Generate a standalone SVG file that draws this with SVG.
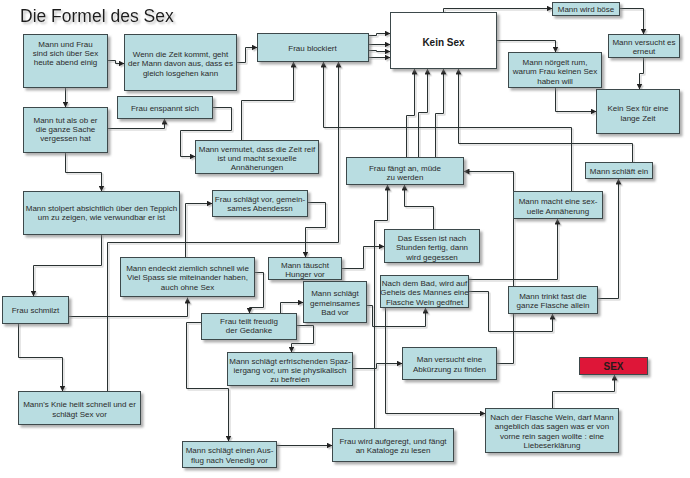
<svg xmlns="http://www.w3.org/2000/svg" width="690" height="478" viewBox="0 0 690 478">
<defs>
<filter id="sh" x="-10%" y="-10%" width="130%" height="140%">
<feDropShadow dx="2.5" dy="2.5" stdDeviation="1.2" flood-color="#7a7a7a" flood-opacity="0.6"/>
</filter>
<filter id="lsh" x="-10%" y="-10%" width="130%" height="130%">
<feDropShadow dx="1.5" dy="1.5" stdDeviation="0.6" flood-color="#9a9a9a" flood-opacity="0.5"/>
</filter>
<filter id="tsh" x="-10%" y="-30%" width="130%" height="180%">
<feDropShadow dx="2" dy="2" stdDeviation="1.2" flood-color="#8a8a8a" flood-opacity="0.55"/>
</filter>
<marker id="a" markerWidth="6" markerHeight="6" refX="6" refY="3" orient="auto" markerUnits="userSpaceOnUse">
<path d="M0,0 L6,3 L0,6 z" fill="#222"/>
</marker>
</defs>
<style>
.n rect{fill:#b9dde1;stroke:#3d4a4c;stroke-width:1;filter:url(#sh)}
.n text,.title{font-family:"Liberation Sans",Arial,sans-serif;font-size:8px;fill:#2b2b2b;text-anchor:middle}
#conn path{fill:none;stroke:#2c3233;stroke-width:1;marker-end:url(#a)}
.title{font-size:17.5px;text-anchor:start;fill:#1e1e1e;filter:url(#tsh)}
</style>
<rect width="690" height="478" fill="#ffffff"/>
<text class="title" x="20" y="22">Die Formel des Sex</text>
<g transform="translate(0.5 0.5)">
<g id="conn" filter="url(#lsh)">
<path d="M107,60 H115 V63 H124"/>
<path d="M65,87 V107"/>
<path d="M236,62 H245 V47 H257"/>
<path d="M107,128 H164 V118"/>
<path d="M212,107 H231 V130 H180 V156 H195"/>
<path d="M241,140 V100 H293 V61"/>
<path d="M368,35 H376 V33 H390"/>
<path d="M368,44 H390"/>
<path d="M368,50 H376 V51 H390"/>
<path d="M368,57 H390"/>
<path d="M443,12 V8 H552"/>
<path d="M619,8 H643 V34"/>
<path d="M496,40 H555 V52"/>
<path d="M643,57 V73 H639 V89"/>
<path d="M555,87 V111 H596"/>
<path d="M406,157 V115 H414 V68"/>
<path d="M418,157 V112 H427 V68"/>
<path d="M435,157 V113 H443 V68"/>
<path d="M632,162 V143 H458 V68"/>
<path d="M571,191 V127 H323 V61"/>
<path d="M107,391 V242 H338 V61"/>
<path d="M65,152 V172 H101 V191"/>
<path d="M101,234 V265 H33 V296"/>
<path d="M185,257 V203 H212"/>
<path d="M307,202 H325 V227 H305 V257"/>
<path d="M341,268 H363 V246 H384"/>
<path d="M433,229 V206 H404 V184"/>
<path d="M374,428 V220 H387 V184"/>
<path d="M597,298 H618 V178"/>
<path d="M468,279 H557 V218"/>
<path d="M496,363 H513 V171 H463"/>
<path d="M468,291 H488 V331 H552 V313"/>
<path d="M366,305 H372 V326 H425 V307"/>
<path d="M385,307 V413 H485"/>
<path d="M552,408 V391 H614 V374"/>
<path d="M276,445 H332"/>
<path d="M201,322 H186 V388 H228 V441"/>
<path d="M296,325 H313 V343 H291 V352"/>
<path d="M254,272 H263 V307 H249 V313"/>
<path d="M262,313 H280 V302 H303"/>
<path d="M352,368 H376 V363 H402"/>
<path d="M68,316 H187 V297"/>
<path d="M18,323 V357 H62 V391"/>
</g>
<g id="n1" class="n"><rect x="23" y="34" width="84" height="53"/><text x="65" y="46">Mann und Frau</text><text x="65" y="55">sind sich über Sex</text><text x="65" y="64">heute abend einig</text></g>
<g id="n2" class="n"><rect x="124" y="34" width="112" height="56"/><text x="180" y="56">Wenn die Zeit kommt, geht</text><text x="180" y="65.5">der Mann davon aus, dass es</text><text x="180" y="75">gleich losgehen kann</text></g>
<g id="n3" class="n"><rect x="257" y="33" width="111" height="28"/><text x="312" y="50">Frau blockiert</text></g>
<g id="n4" class="n"><rect x="390" y="12" width="106" height="56" style="fill:#ffffff"/><text x="443" y="45" style="font-size:10px;font-weight:bold;fill:#1a1a1a">Kein Sex</text></g>
<g id="n5" class="n"><rect x="552" y="2" width="67" height="13"/><text x="585.5" y="11.5">Mann wird böse</text></g>
<g id="n6" class="n"><rect x="608" y="34" width="71" height="23"/><text x="643.5" y="44.5">Mann versucht es</text><text x="643.5" y="53.5">erneut</text></g>
<g id="n7" class="n"><rect x="508" y="52" width="93" height="35"/><text x="554.5" y="64">Mann nörgelt rum,</text><text x="554.5" y="73.5">warum Frau keinen Sex</text><text x="554.5" y="83">haben will</text></g>
<g id="n8" class="n"><rect x="596" y="89" width="83" height="44"/><text x="637.5" y="110">Kein Sex für eine</text><text x="637.5" y="120">lange Zeit</text></g>
<g id="n9" class="n"><rect x="23" y="107" width="84" height="45"/><text x="65" y="122">Mann tut als ob er</text><text x="65" y="131">die ganze Sache</text><text x="65" y="140">vergessen hat</text></g>
<g id="n10" class="n"><rect x="117" y="96" width="95" height="22"/><text x="164.5" y="110">Frau enspannt sich</text></g>
<g id="n11" class="n"><rect x="195" y="140" width="123" height="33"/><text x="256.5" y="151">Mann vermutet, dass die Zeit reif</text><text x="256.5" y="160">ist und macht sexuelle</text><text x="256.5" y="169">Annäherungen</text></g>
<g id="n12" class="n"><rect x="346" y="157" width="117" height="27"/><text x="404.5" y="170">Frau fängt an, müde</text><text x="404.5" y="179">zu werden</text></g>
<g id="n13" class="n"><rect x="585" y="162" width="67" height="16"/><text x="618.5" y="173">Mann schläft ein</text></g>
<g id="n14" class="n"><rect x="23" y="191" width="156" height="43"/><text x="101" y="210">Mann stolpert absichtlich über den Teppich</text><text x="101" y="219">um zu zeigen, wie verwundbar er ist</text></g>
<g id="n15" class="n"><rect x="212" y="190" width="95" height="26"/><text x="259.5" y="201">Frau schlägt vor, gemein-</text><text x="259.5" y="210">sames Abendessn</text></g>
<g id="n16" class="n"><rect x="120" y="257" width="134" height="39"/><text x="187" y="270">Mann endeckt ziemlich schnell wie</text><text x="187" y="279.5">Viel Spass sie miteinander haben,</text><text x="187" y="289">auch ohne Sex</text></g>
<g id="n17" class="n"><rect x="268" y="257" width="73" height="22"/><text x="304.5" y="267">Mann täuscht</text><text x="304.5" y="276">Hunger vor</text></g>
<g id="n18" class="n"><rect x="384" y="229" width="95" height="33"/><text x="431.5" y="240">Das Essen ist nach</text><text x="431.5" y="249.5">Stunden fertig, dann</text><text x="431.5" y="259">wird gegessen</text></g>
<g id="n19" class="n"><rect x="513" y="191" width="89" height="27"/><text x="557.5" y="203">Mann macht eine sex-</text><text x="557.5" y="213">uelle Annäherung</text></g>
<g id="n20" class="n"><rect x="2" y="296" width="66" height="27"/><text x="35" y="312">Frau schmilzt</text></g>
<g id="n21" class="n"><rect x="303" y="281" width="63" height="41"/><text x="334.5" y="295">Mann schlägt</text><text x="334.5" y="305">gemeinsames</text><text x="334.5" y="314">Bad vor</text></g>
<g id="n22" class="n"><rect x="380" y="275" width="88" height="32"/><text x="424" y="285">Nach dem Bad, wird auf</text><text x="424" y="294.5">Geheis des Mannes eine</text><text x="424" y="304">Flasche Wein gedfnet</text></g>
<g id="n23" class="n"><rect x="508" y="286" width="89" height="27"/><text x="552.5" y="298">Mann trinkt fast die</text><text x="552.5" y="307">ganze Flasche allein</text></g>
<g id="n24" class="n"><rect x="201" y="313" width="95" height="26"/><text x="248.5" y="323">Frau teilt freudig</text><text x="248.5" y="332">der Gedanke</text></g>
<g id="n25" class="n"><rect x="227" y="352" width="125" height="33"/><text x="289.5" y="363">Mann schlägt erfrischenden Spaz-</text><text x="289.5" y="372">iergang vor, um sie physikalisch</text><text x="289.5" y="381">zu befreien</text></g>
<g id="n26" class="n"><rect x="402" y="347" width="94" height="32"/><text x="449" y="361">Man versucht eine</text><text x="449" y="371">Abkürzung zu finden</text></g>
<g id="n27" class="n"><rect x="18" y="391" width="122" height="33"/><text x="79" y="406">Mann's Knie heilt schnell und er</text><text x="79" y="416">schlägt Sex vor</text></g>
<g id="n28" class="n"><rect x="182" y="441" width="94" height="26"/><text x="229" y="452">Mann schlägt einen Aus-</text><text x="229" y="462">flug nach Venedig vor</text></g>
<g id="n29" class="n"><rect x="332" y="428" width="121" height="33"/><text x="392.5" y="443">Frau wird aufgeregt, und fängt</text><text x="392.5" y="452">an Kataloge zu lesen</text></g>
<g id="n30" class="n"><rect x="579" y="357" width="68" height="17" style="fill:#de1638"/><text x="613" y="369" style="font-size:10px;font-weight:bold;fill:#2a1a1a">SEX</text></g>
<g id="n31" class="n"><rect x="485" y="408" width="133" height="44"/><text x="551.5" y="419">Nach der Flasche Wein, darf Mann</text><text x="551.5" y="428">angeblich das sagen was er von</text><text x="551.5" y="438">vorne rein sagen wollte : eine</text><text x="551.5" y="447">Liebeserklärung</text></g>
</g>
</svg>
